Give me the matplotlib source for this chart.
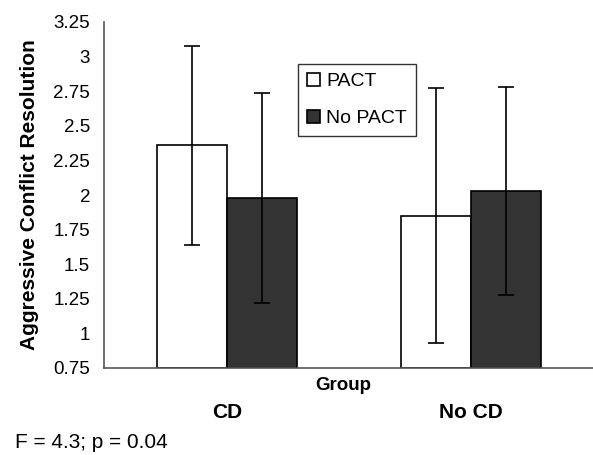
import numpy as np
import matplotlib
matplotlib.use("Agg")
import matplotlib.pyplot as plt

plt.rcParams['font.family'] = ['Liberation Sans', 'DejaVu Sans']

groups = ["CD", "No CD"]
series = ["PACT", "No PACT"]
means_pact = [2.36, 1.85]
means_nopact = [1.98, 2.03]
err_pact = [0.72, 0.92]
err_nopact = [0.76, 0.75]
yticks = [0.75, 1, 1.25, 1.5, 1.75, 2, 2.25, 2.5, 2.75, 3, 3.25]
ytick_labels = ["0.75", "1", "1.25", "1.5", "1.75", "2", "2.25", "2.5", "2.75", "3", "3.25"]

fig = plt.figure(figsize=(5.93, 4.55), dpi=100)
ax = fig.add_axes([104/593, 87/455, 489/593, 346/455])

x = np.arange(len(groups))
w = 0.287
bottom = 0.75
err_kw = dict(ecolor='black', elinewidth=1.2, capsize=5.5, capthick=1.2)
ax.bar(x - w/2, np.array(means_pact) - bottom, w, bottom=bottom,
       color='white', edgecolor='black', linewidth=1.2,
       yerr=err_pact, error_kw=err_kw, label=series[0])
ax.bar(x + w/2, np.array(means_nopact) - bottom, w, bottom=bottom,
       color='#333333', edgecolor='black', linewidth=1.2,
       yerr=err_nopact, error_kw=err_kw, label=series[1])

ax.set_ylim(0.75, 3.25)
ax.set_xlim(-0.504, 1.5)
ax.set_yticks(yticks)
ax.set_yticklabels(ytick_labels, fontsize=13.5)
ax.set_xticks(x)
ax.set_xticklabels(groups, fontsize=15, fontweight='bold')
ax.tick_params(axis='y', length=0, pad=10)
ax.tick_params(axis='x', length=0, pad=25)

for s in ['top', 'right']:
    ax.spines[s].set_visible(False)
for s in ['left', 'bottom']:
    ax.spines[s].set_color('#555555')
    ax.spines[s].set_linewidth(1.2)

ax.set_ylabel("Aggressive Conflict Resolution", fontsize=15, fontweight='bold', labelpad=10)
ax.text(0.49, -0.05, "Group", transform=ax.transAxes, ha='center', va='center',
        fontsize=13.5, fontweight='bold')

leg = ax.legend(loc='upper left', bbox_to_anchor=(0.397, 0.879), fontsize=14,
                fancybox=False, framealpha=1, edgecolor='#333333',
                handlelength=0.7, handleheight=0.7, handletextpad=0.3,
                borderpad=0.45, labelspacing=1.0, borderaxespad=0)
leg.get_frame().set_linewidth(1.0)

fig.text(15/593, 1 - 443/455, "F = 4.3; p = 0.04", fontsize=15, ha='left', va='center')

fig.savefig("out.png", dpi=100)
